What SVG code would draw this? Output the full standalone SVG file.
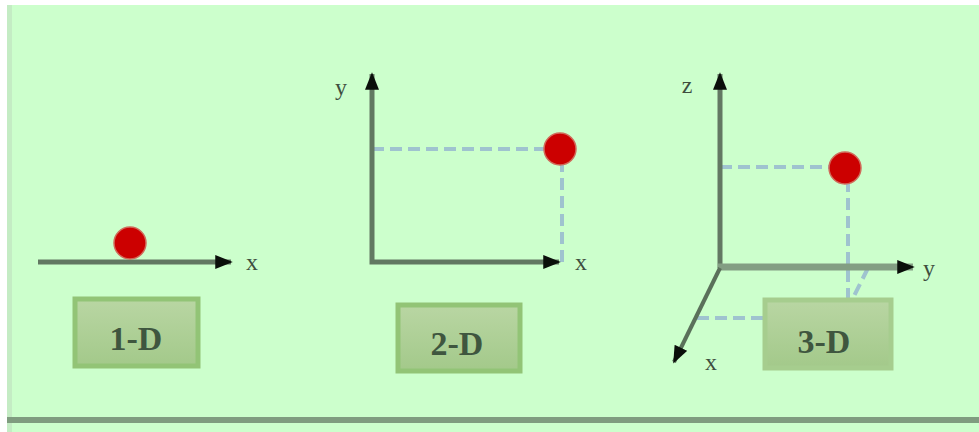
<svg xmlns="http://www.w3.org/2000/svg" width="979" height="432" viewBox="0 0 979 432">
<style>
.axis{stroke:#627862;stroke-width:5;fill:none;stroke-linecap:butt}
.dash{stroke:#9fc3cf;stroke-width:4;fill:none;stroke-dasharray:12 6}
.dot{fill:#cc0000;stroke:#d06a5a;stroke-width:1.5}
.lbl{font-family:"Liberation Serif",serif;font-size:24px;fill:#3e4e3e;text-anchor:middle}
.box{fill:url(#boxg);stroke:#92c476;stroke-width:5}
.boxt{font-family:"Liberation Serif",serif;font-weight:bold;font-size:34px;fill:#3f563f;text-anchor:middle}
</style>
<defs>
<linearGradient id="boxg" x1="0" y1="0" x2="0" y2="1">
<stop offset="0" stop-color="#b9d6a3"/>
<stop offset="1" stop-color="#a3c98a"/>
</linearGradient>
<marker id="arr" viewBox="0 0 10 8" refX="9" refY="4" markerWidth="18" markerHeight="14" markerUnits="userSpaceOnUse" orient="auto-start-reverse">
<path d="M0,0 L10,4 L0,8 z" fill="#0a0f0a"/>
</marker>
</defs>
<rect x="0" y="0" width="979" height="432" fill="#ffffff"/>
<rect x="7" y="5" width="972" height="427" fill="#ccffcc"/>
<rect x="7" y="5" width="5" height="427" fill="#c4ecc4"/>
<rect x="7" y="417" width="972" height="6" fill="#7f9c7f"/>

<g id="connectors">
<!-- 1-D -->
<line class="axis" x1="38" y1="262" x2="231" y2="262" marker-end="url(#arr)"/>
<!-- 2-D -->
<line class="dash" x1="372" y1="149" x2="548" y2="149"/>
<line class="dash" x1="562" y1="160" x2="562" y2="262"/>
<polyline class="axis" points="372,74 372,262 559,262" marker-start="url(#arr)" marker-end="url(#arr)"/>
<!-- 3-D -->
<line class="dash" x1="720" y1="167" x2="832" y2="167"/>
<line class="dash" x1="848" y1="180" x2="848" y2="318"/>
<line class="dash" x1="868" y1="268" x2="843" y2="318"/>
<line class="dash" x1="697" y1="318" x2="843" y2="318"/>
<line class="axis" x1="720" y1="268" x2="720" y2="74" marker-end="url(#arr)"/>
<line class="axis" x1="718" y1="267" x2="913" y2="267" marker-end="url(#arr)" style="stroke:#839e83;stroke-width:7"/>
<line class="axis" x1="720" y1="268" x2="674" y2="362" marker-end="url(#arr)" style="stroke:#5a705a;stroke-width:4"/>
</g>

<g id="panel-1d">
<circle class="dot" cx="130" cy="243" r="16"/>
<text class="lbl" x="252" y="270">x</text>
</g>
<g id="node-1d">
<rect class="box" x="75" y="299" width="123" height="67"/>
<text class="boxt" x="136" y="350">1-D</text>
</g>

<g id="panel-2d">
<circle class="dot" cx="560" cy="149" r="16"/>
<text class="lbl" x="341" y="95">y</text>
<text class="lbl" x="581" y="270">x</text>
</g>
<g id="node-2d">
<rect class="box" x="398" y="305" width="122" height="66"/>
<text class="boxt" x="457" y="355">2-D</text>
</g>

<g id="panel-3d">
<circle class="dot" cx="845" cy="168" r="16"/>
<text class="lbl" x="687" y="93">z</text>
<text class="lbl" x="929" y="276">y</text>
<text class="lbl" x="711" y="370">x</text>
</g>
<g id="node-3d">
<rect class="box" x="765" y="300" width="126" height="68" style="stroke:#a6cd8e"/>
<text class="boxt" x="824" y="353">3-D</text>
</g>
</svg>
